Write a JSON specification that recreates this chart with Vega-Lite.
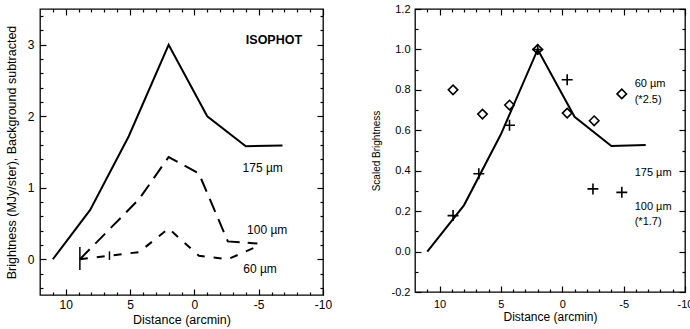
{
  "$schema": "https://vega.github.io/schema/vega-lite/v6.json",
  "padding": {"left": 4, "top": 2, "right": 0, "bottom": 0},
  "background": "white",
  "config": {
    "view": {"stroke": "black", "strokeWidth": 1.3},
    "axis": {"domain": false, "tickColor": "black", "labelColor": "black", "titleColor": "black", "labelFont": "Liberation Sans", "titleFont": "Liberation Sans", "grid": false, "labelFlush": false, "labelOverlap": false, "titleFontWeight": "normal", "tickWidth": 1.2},
    "text": {"font": "Liberation Sans", "color": "black"}
  },
  "datasets": {
    "left175": [{"d": 11, "v": 0}, {"d": 8.1, "v": 0.69}, {"d": 5.1, "v": 1.72}, {"d": 2.0, "v": 3.0}, {"d": -1.0, "v": 2.0}, {"d": -4.0, "v": 1.58}, {"d": -6.85, "v": 1.59}],
    "left100": [{"d": 8.9, "v": 0.0}, {"d": 6.6, "v": 0.42}, {"d": 4.3, "v": 0.84}, {"d": 2.0, "v": 1.43}, {"d": -0.35, "v": 1.2}, {"d": -2.6, "v": 0.25}, {"d": -4.9, "v": 0.22}],
    "left60": [{"d": 8.9, "v": 0.0}, {"d": 6.6, "v": 0.05}, {"d": 4.3, "v": 0.1}, {"d": 2.0, "v": 0.43}, {"d": -0.35, "v": 0.05}, {"d": -2.6, "v": 0.0}, {"d": -4.9, "v": 0.18}],
    "leftErr": [{"d": 8.9, "lo": -0.15, "hi": 0.17}, {"d": 6.6, "lo": -0.01, "hi": 0.11}],
    "leftLab": [{"d": -3.75, "v": 1.27, "t": "175 µm"}, {"d": -4.1, "v": 0.41, "t": "100 µm"}, {"d": -3.8, "v": -0.13, "t": "60 µm"}],
    "leftTitle": [{"d": -4.0, "v": 3.07, "t": "ISOPHOT"}],
    "right175": [{"d": 11, "v": 0}, {"d": 8, "v": 0.23}, {"d": 5, "v": 0.58}, {"d": 2, "v": 1.0}, {"d": -1, "v": 0.667}, {"d": -4, "v": 0.522}, {"d": -6.8, "v": 0.527}],
    "right60": [{"d": 8.9, "v": 0.8}, {"d": 6.5, "v": 0.68}, {"d": 4.3, "v": 0.725}, {"d": 2.0, "v": 1.0}, {"d": -0.4, "v": 0.685}, {"d": -2.6, "v": 0.647}, {"d": -4.85, "v": 0.78}],
    "right100": [{"d": 8.9, "v": 0.178}, {"d": 6.8, "v": 0.385}, {"d": 4.3, "v": 0.625}, {"d": 2.0, "v": 1.0}, {"d": -0.4, "v": 0.85}, {"d": -2.5, "v": 0.31}, {"d": -4.85, "v": 0.293}],
    "rightLab": [{"d": -5.9, "v": 0.827, "t": "60 µm"}, {"d": -5.9, "v": 0.748, "t": "(*2.5)"}, {"d": -5.9, "v": 0.388, "t": "175 µm"}, {"d": -5.9, "v": 0.221, "t": "100 µm"}, {"d": -5.9, "v": 0.146, "t": "(*1.7)"}]
  },
  "bounds": "flush",
  "spacing": 92,
  "hconcat": [
    {
      "width": 283,
      "height": 286,
      "layer": [
        {
          "data": {"name": "left175"},
          "mark": {"type": "line", "color": "black", "strokeWidth": 2},
          "encoding": {
            "x": {"field": "d", "type": "quantitative", "scale": {"domain": [-10, 12], "reverse": true, "nice": false, "zero": false},
              "axis": {"orient": "bottom", "title": "Distance (arcmin)", "values": [-10, -5, 0, 5, 10], "labelExpr": "'' + datum.value", "tickSize": 6, "offset": -6, "labelPadding": 4, "labelFontSize": 12, "titleFontSize": 12.5, "titlePadding": 3}},
            "y": {"field": "v", "type": "quantitative", "scale": {"domain": [-0.5, 3.5], "nice": false, "zero": false},
              "axis": {"orient": "left", "title": "Brightness (MJy/ster), Background subtracted", "values": [0, 1, 2, 3], "tickSize": 6, "offset": -6, "labelPadding": 6, "labelFontSize": 12, "titleFontSize": 12.5, "titlePadding": 9}}
          }
        },
        {
          "data": {"name": "left100"},
          "mark": {"type": "line", "color": "black", "strokeWidth": 2, "strokeDash": [14, 8]},
          "encoding": {
            "x": {"field": "d", "type": "quantitative", "axis": {"orient": "bottom", "title": null, "labels": false, "values": [-9,-8,-7,-6,-4,-3,-2,-1,1,2,3,4,6,7,8,9,11], "tickSize": 3, "offset": -3}},
            "y": {"field": "v", "type": "quantitative", "axis": {"orient": "left", "title": null, "labels": false, "values": [-0.4,-0.2,0.2,0.4,0.6,0.8,1.2,1.4,1.6,1.8,2.2,2.4,2.6,2.8,3.2,3.4], "tickSize": 3, "offset": -3}}
          }
        },
        {
          "data": {"name": "leftLab"},
          "mark": {"type": "text", "align": "left", "baseline": "middle", "fontSize": 12},
          "encoding": {
            "x": {"field": "d", "type": "quantitative", "axis": {"orient": "top", "title": null, "labels": false, "values": [-10, -5, 0, 5, 10], "tickSize": 6, "offset": -6}},
            "y": {"field": "v", "type": "quantitative", "axis": {"orient": "right", "title": null, "labels": false, "values": [0, 1, 2, 3], "tickSize": 6, "offset": -6}},
            "text": {"field": "t"}
          }
        },
        {
          "data": {"name": "left60"},
          "mark": {"type": "line", "color": "black", "strokeWidth": 2, "strokeDash": [8, 9]},
          "encoding": {
            "x": {"field": "d", "type": "quantitative", "axis": {"orient": "top", "title": null, "labels": false, "values": [-9,-8,-7,-6,-4,-3,-2,-1,1,2,3,4,6,7,8,9,11], "tickSize": 3, "offset": -3}},
            "y": {"field": "v", "type": "quantitative", "axis": {"orient": "right", "title": null, "labels": false, "values": [-0.4,-0.2,0.2,0.4,0.6,0.8,1.2,1.4,1.6,1.8,2.2,2.4,2.6,2.8,3.2,3.4], "tickSize": 3, "offset": -3}}
          }
        },
        {
          "layer": [
            {
              "data": {"name": "leftErr"},
              "mark": {"type": "rule", "color": "black", "strokeWidth": 1.5},
              "encoding": {"x": {"field": "d", "type": "quantitative", "axis": null}, "y": {"field": "lo", "type": "quantitative", "axis": null}, "y2": {"field": "hi"}}
            },
            {
              "data": {"name": "leftTitle"},
              "mark": {"type": "text", "align": "left", "baseline": "middle", "fontSize": 12.5, "fontWeight": "bold"},
              "encoding": {"x": {"field": "d", "type": "quantitative", "axis": null}, "y": {"field": "v", "type": "quantitative", "axis": null}, "text": {"field": "t"}}
            }
          ]
        }
      ],
      "resolve": {"axis": {"x": "independent", "y": "independent"}}
    },
    {
      "width": 270,
      "height": 283,
      "layer": [
        {
          "data": {"name": "right175"},
          "mark": {"type": "line", "color": "black", "strokeWidth": 2},
          "encoding": {
            "x": {"field": "d", "type": "quantitative", "scale": {"domain": [-10, 12], "reverse": true, "nice": false, "zero": false},
              "axis": {"orient": "bottom", "title": "Distance (arcmin)", "values": [-10, -5, 0, 5, 10], "labelExpr": "'' + datum.value", "tickSize": 6, "offset": -6, "labelPadding": 6, "labelFontSize": 11, "titleFontSize": 12, "titlePadding": 2}},
            "y": {"field": "v", "type": "quantitative", "scale": {"domain": [-0.2, 1.2], "nice": false, "zero": false},
              "axis": {"orient": "left", "title": "Scaled Brightness", "values": [-0.2, 0, 0.2, 0.4, 0.6, 0.8, 1, 1.2], "labelExpr": "replace(format(datum.value, '.1f'), '\u2212', '-')", "tickSize": 6, "offset": -6, "labelPadding": 5, "labelFontSize": 11, "titleFontSize": 10, "titlePadding": 10}}
          }
        },
        {
          "data": {"name": "right60"},
          "mark": {"type": "point", "shape": "diamond", "filled": false, "color": "black", "strokeWidth": 1.6, "size": 90, "opacity": 1},
          "encoding": {
            "x": {"field": "d", "type": "quantitative", "axis": {"orient": "bottom", "title": null, "labels": false, "values": [-9,-8,-7,-6,-4,-3,-2,-1,1,2,3,4,6,7,8,9,11], "tickSize": 3, "offset": -3}},
            "y": {"field": "v", "type": "quantitative", "axis": {"orient": "left", "title": null, "labels": false, "values": [-0.1, 0.1, 0.3, 0.5, 0.7, 0.9, 1.1], "tickSize": 3, "offset": -3}}
          }
        },
        {
          "data": {"name": "rightLab"},
          "mark": {"type": "text", "align": "left", "baseline": "middle", "fontSize": 11},
          "encoding": {
            "x": {"field": "d", "type": "quantitative", "axis": {"orient": "top", "title": null, "labels": false, "values": [-10, -5, 0, 5, 10], "tickSize": 6, "offset": -6}},
            "y": {"field": "v", "type": "quantitative", "axis": {"orient": "right", "title": null, "labels": false, "values": [-0.2, 0, 0.2, 0.4, 0.6, 0.8, 1, 1.2], "tickSize": 6, "offset": -6}},
            "text": {"field": "t"}
          }
        },
        {
          "data": {"name": "right100"},
          "mark": {"type": "point", "shape": "M-1,0L1,0M0,-1L0,1", "filled": false, "color": "black", "strokeWidth": 1.6, "size": 120, "opacity": 1},
          "encoding": {
            "x": {"field": "d", "type": "quantitative", "axis": {"orient": "top", "title": null, "labels": false, "values": [-9,-8,-7,-6,-4,-3,-2,-1,1,2,3,4,6,7,8,9,11], "tickSize": 3, "offset": -3}},
            "y": {"field": "v", "type": "quantitative", "axis": {"orient": "right", "title": null, "labels": false, "values": [-0.1, 0.1, 0.3, 0.5, 0.7, 0.9, 1.1], "tickSize": 3, "offset": -3}}
          }
        }
      ],
      "resolve": {"axis": {"x": "independent", "y": "independent"}}
    }
  ]
}
